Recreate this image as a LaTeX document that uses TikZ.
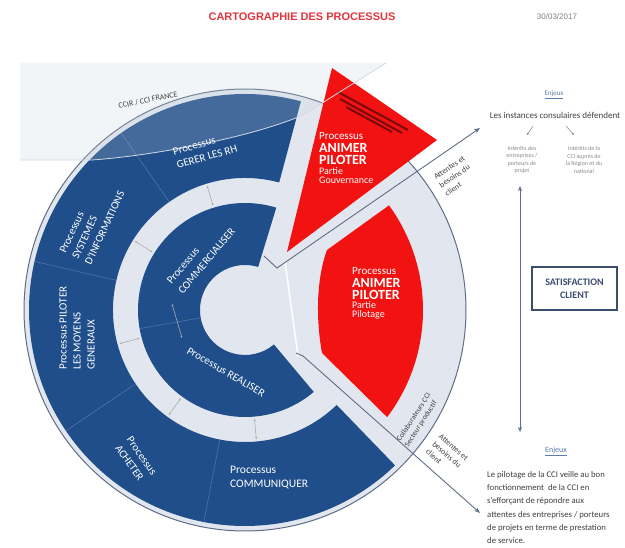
\documentclass[tikz,border=0pt]{standalone}
\usepackage{fontspec}
\setmainfont{Carlito}
\newfontfamily\titlefont{Liberation Sans}
\usetikzlibrary{arrows.meta,calc}
\definecolor{ringblue}{HTML}{1F4E8A}
\definecolor{divblue}{HTML}{4E73A8}
\definecolor{lightbg}{HTML}{E2E7EF}
\definecolor{cred}{HTML}{F21212}
\definecolor{darkred}{HTML}{7A0A0A}
\definecolor{linegray}{HTML}{5F6E86}
\definecolor{txtgray}{HTML}{404040}
\definecolor{paletxt}{HTML}{8A8A8A}
\definecolor{titlered}{HTML}{E2363E}
\definecolor{boxblue}{HTML}{3C4D6D}
\definecolor{linkblue}{HTML}{5A7CB0}
\definecolor{overlayc}{HTML}{C8D2E0}
\definecolor{overlayline}{HTML}{D3D9E2}
\begin{document}
\begin{tikzpicture}[x=1pt,y=-1pt,
  ringlabel/.style={text=white, font=\fontsize{11}{14}\selectfont, align=left, inner sep=0pt},
  redsmall/.style={text=white, anchor=base west, inner sep=0pt, font=\fontsize{10}{12}\selectfont},
  redbig/.style={text=white, anchor=base west, inner sep=0pt, font=\bfseries\fontsize{14}{16}\selectfont},
  conn/.style={draw=linegray, line width=0.9pt},
  dblarrow/.style={draw=gray!65, line width=0.6pt, {Stealth[length=2.5pt,width=2pt]}-{Stealth[length=2.5pt,width=2pt]}},
  divline/.style={draw=divblue, line width=0.6pt},
  flowlabel/.style={text=txtgray, font=\fontsize{8}{10}\selectfont, align=left, inner sep=0pt},
]
\useasboundingbox (0,0) rectangle (625,548);
\fill[white] (0,0) rectangle (625,548);
\coordinate (C) at (245,310);

% light disc and outer line
\fill[lightbg] (C) circle[radius=221];
\draw[linegray, line width=1pt] (C) circle[radius=221];

% outer blue ring
\fill[ringblue] ($(C)+(46:216)$) arc[start angle=46, end angle=285, radius=216]
  -- ($(C)+(285:132)$) arc[start angle=285, end angle=46, radius=132] -- cycle;
\foreach \a in {101,146,193,235}
  \draw[divline] ($(C)+(\a:132)$) -- ($(C)+(\a:216)$);

% inner C
\fill[ringblue] ($(C)+(50:107)$) arc[start angle=50, end angle=287, radius=107]
  -- ($(C)+(287:45)$) arc[start angle=287, end angle=50, radius=45] -- cycle;
\draw[divline] ($(C)+(170:45)$) -- ($(C)+(170:107)$);

% overlay (CCIR / CCI France)
\fill[overlayc, opacity=0.22] (20,63) -- (386,63) -- (303,115)
  .. controls (250,138) and (150,156) .. (92,160) -- (20,160) -- cycle;

% red pilotage sector
\fill[cred] ($(C)+(-36:178)$) arc[start angle=-36, end angle=37, radius=178]
  -- (322,353) .. controls (316,320) and (316,280) .. (327,250) -- cycle;

% red triangle
\fill[cred] (332,68) -- (437,140) -- (287,252) -- cycle;
\draw[darkred, line width=2pt] (338,92) -- (408,130);
\draw[darkred, line width=2pt] (340,99) -- (402,133);
\draw[darkred, line width=2pt] (346,107) -- (392,132);

\draw[overlayline, line width=0.8pt] (386,63) -- (303,115)
  .. controls (250,138) and (150,156) .. (92,160) -- (20,160);
\node[rotate=12, text=txtgray, font=\fontsize{8}{9}\selectfont] (ccir) at (148,100) {CCIR / CCI FRANCE};

% white divider
\draw[white, line width=1.5pt] (285,262) -- (298,356);

% connectors
\coordinate (ta) at (264,256);
\coordinate (tb) at (277,268);
\coordinate (tc) at (480,128);
\draw[conn, -{Stealth[length=6pt,width=4.5pt]}] (ta) -- (tb) -- (tc);
\coordinate (ba) at (296,353);
\coordinate (bb) at (303,356);
\coordinate (bc) at (480,513);
\draw[conn, -{Stealth[length=6pt,width=4.5pt]}] (ba) -- (bb) -- (bc);

% small double arrows across light ring
\foreach \a in {212,253,165,126,85}
  \draw[dblarrow] ($(C)+(\a:109)$) -- ($(C)+(\a:130)$);
\coordinate (ia) at (172,304);
\coordinate (ib) at (182,338);
\draw[dblarrow] (ia) -- (ib);

% ring labels
\node[ringlabel, rotate=16] (rh) at (205,150) {Processus\\GERER LES RH};
\node[ringlabel, rotate=65] (si) at (92,222) {Processus\\SYSTEMES\\D'INFORMATIONS};
\node[ringlabel, rotate=90] (mg) at (77,328) {Processus PILOTER\\LES MOYENS\\GENERAUX};
\node[ringlabel, rotate=-55] (ach) at (136,460) {Processus\\ACHETER};
\node[ringlabel, anchor=west, font=\fontsize{11.5}{14}\selectfont] (com) at (230,478) {Processus\\COMMUNIQUER};
\node[ringlabel, rotate=50, font=\fontsize{11}{15}\selectfont] (comm) at (201,256) {Processus\\COMMERCIALISER};
\node[ringlabel, rotate=-30] (real) at (226,372) {Processus REALISER};

% red labels (triangle)
\node[redsmall, font=\fontsize{11}{12}\selectfont] (g1) at (319,140) {Processus};
\node[redbig] (g2) at (319,153) {ANIMER};
\node[redbig] (g3) at (319,165) {PILOTER};
\node[redsmall] (g4) at (319,175) {Partie};
\node[redsmall] (g5) at (319,184) {Gouvernance};
% red labels (pilotage)
\node[redsmall, font=\fontsize{11}{12}\selectfont] (p1) at (352,275) {Processus};
\node[redbig] (p2) at (352,288) {ANIMER};
\node[redbig] (p3) at (352,300) {PILOTER};
\node[redsmall] (p4) at (352,309) {Partie};
\node[redsmall] (p5) at (352,318) {Pilotage};

% flow labels
\node[flowlabel, rotate=34] (att1) at (455,176) {Attentes et\\besoins du\\client};
\node[flowlabel, rotate=-41] (att2) at (447,455) {Attentes et\\besoins du\\client};
\node[flowlabel, rotate=57, font=\fontsize{7.5}{9.5}\selectfont] (collab) at (418,420) {Collaborateurs CCI\\Secteur productif};

% title
\node[font=\titlefont\bfseries\fontsize{11}{13}\selectfont, text=titlered] (title) at (302,17) {CARTOGRAPHIE DES PROCESSUS};
\node[font=\titlefont\fontsize{8}{10}\selectfont, text=gray] (date) at (557,17) {30/03/2017};

% right side
\node[font=\fontsize{7}{9}\selectfont, text=linkblue] (enj1) at (554,95) {\underline{Enjeux}};
\node[font=\fontsize{9}{11}\selectfont, text=txtgray] (inst) at (555,115) {Les instances consulaires défendent};
\coordinate (s1a) at (533,126); \coordinate (s1b) at (527,135);
\coordinate (s2a) at (566,126); \coordinate (s2b) at (574,135);
\draw[draw=gray, line width=0.5pt, -{Stealth[length=2.5pt,width=2pt]}] (s1a) -- (s1b);
\draw[draw=gray, line width=0.5pt, -{Stealth[length=2.5pt,width=2pt]}] (s2a) -- (s2b);
\node[font=\fontsize{6}{7.5}\selectfont, text=paletxt, align=center] (t1) at (522,160) {Intérêts des\\entreprises /\\porteurs de\\projet};
\node[font=\fontsize{6}{7.5}\selectfont, text=paletxt, align=center] (t2) at (584,160) {Intérêts de la\\CCI auprès de\\la Région et du\\national};
\coordinate (va) at (520,186);
\coordinate (vb) at (520,432);
\draw[conn, {Stealth[length=5pt,width=4pt]}-{Stealth[length=5pt,width=4pt]}] (va) -- (vb);
\node[draw=boxblue, line width=1.3pt, minimum width=85, minimum height=43, align=center,
  font=\bfseries\fontsize{10}{13}\selectfont, text=boxblue] (sat) at (574.5,288.5) {SATISFACTION\\CLIENT};
\node[font=\fontsize{8}{9}\selectfont, text=linkblue] (enj2) at (556,451) {\underline{Enjeux}};
\node[anchor=north west, align=left, inner sep=0pt, text=txtgray, font=\fontsize{8.7}{13.3}\selectfont] (para) at (487,471)
  {Le pilotage de la CCI veille au bon\\fonctionnement~ de la CCI en\\s'efforçant de répondre aux\\attentes des entreprises / porteurs\\de projets en terme de prestation\\de service.};
\end{tikzpicture}
\end{document}
